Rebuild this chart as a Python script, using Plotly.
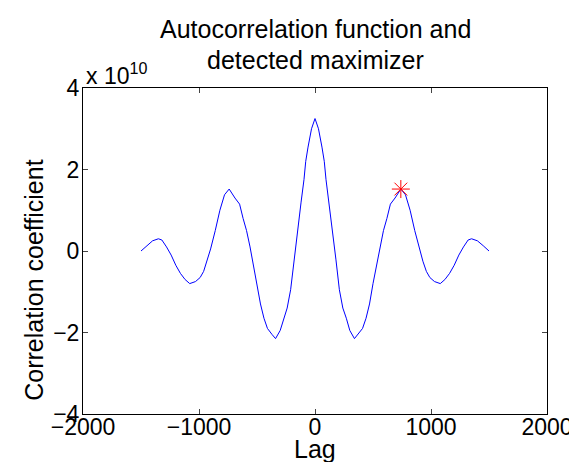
import plotly.graph_objects as go

# Lags and autocorrelation values (in units of 1e10)
lags = [-1500, -1450, -1400, -1350, -1320, -1280, -1240, -1200, -1160, -1120, -1080,
        -1030, -990, -960, -930, -900, -860, -820, -780, -740, -690, -650, -620,
        -590, -560, -530, -500, -470, -440, -410, -370, -340, -300, -270, -240,
        -210, -180, -150, -120, -95, -80, -60, -30,
        0,
        30, 60, 80, 95, 120, 150, 180, 210, 240, 270, 300, 340, 370, 410, 440,
        470, 500, 530, 560, 590, 620, 650, 690, 740, 780, 820, 860, 900, 930,
        960, 990, 1030, 1080, 1120, 1160, 1200, 1240, 1280, 1320, 1350, 1400,
        1450, 1500]
corr_e10 = [0.0, 0.13, 0.25, 0.3, 0.27, 0.1, -0.1, -0.35, -0.55, -0.7, -0.8,
            -0.75, -0.65, -0.5, -0.25, 0.05, 0.5, 1.0, 1.38, 1.52, 1.3, 1.15, 0.8,
            0.5, 0.1, -0.35, -0.8, -1.3, -1.65, -1.9, -2.05, -2.15, -1.95, -1.65, -1.4,
            -0.95, -0.2, 0.5, 1.2, 1.75, 2.2, 2.55, 3.0,
            3.25,
            3.0, 2.55, 2.2, 1.75, 1.2, 0.5, -0.2, -0.95, -1.4, -1.65, -1.95, -2.15,
            -2.05, -1.9, -1.65, -1.3, -0.8, -0.35, 0.1, 0.5, 0.8, 1.15, 1.3, 1.52,
            1.38, 1.0, 0.5, 0.05, -0.25, -0.5, -0.65, -0.75, -0.8, -0.7, -0.55,
            -0.35, -0.1, 0.1, 0.27, 0.3, 0.25, 0.13, 0.0]

max_lag = [740]
max_corr_e10 = [1.52]

x_ticks = [-2000, -1000, 0, 1000, 2000]
x_tick_text = ["\u22122000", "\u22121000", "0", "1000", "2000"]
y_ticks_e10 = [-4, -2, 0, 2, 4]
y_tick_text = ["\u22124", "\u22122", "0", "2", "4"]

title_lines = ["Autocorrelation function and", "detected maximizer"]
x_label = "Lag"
y_label = "Correlation coefficient"
exponent_label = "x 10<sup>10</sup>"

SCALE = 1e10
FONT = "Liberation Sans, Arial, Helvetica, sans-serif"
TICK_SIZE = 23
LABEL_SIZE = 25

# plot area geometry (pixels)
L, R, T, B = 75, 31, 80, 56
W, H = 577, 462
PH = H - T - B
PW = W - L - R


def py(y_px):
    return (H - B - y_px) / PH


def px(x_px):
    return (x_px - L) / PW


fig = go.Figure()
fig.add_trace(go.Scatter(
    x=lags, y=[v * SCALE for v in corr_e10], mode="lines",
    line=dict(color="#0000ff", width=1), showlegend=False, hoverinfo="skip"))
fig.add_trace(go.Scatter(
    x=max_lag, y=[v * SCALE for v in max_corr_e10], mode="markers",
    marker=dict(symbol="asterisk-open", size=15, color="red",
                line=dict(color="red", width=1)),
    showlegend=False, hoverinfo="skip"))

axis_common = dict(
    showline=True, linecolor="black", linewidth=1, mirror="ticks",
    ticks="inside", ticklen=5, tickcolor="#444444", tickwidth=1,
    showgrid=False, zeroline=False,
    tickfont=dict(family=FONT, size=TICK_SIZE, color="black"),
)

fig.update_xaxes(range=[-2000, 2000], tickvals=x_ticks, ticktext=x_tick_text,
                 ticklabelstandoff=-8, **axis_common)
fig.update_yaxes(range=[-4 * SCALE, 4 * SCALE],
                 tickvals=[v * SCALE for v in y_ticks_e10], ticktext=y_tick_text,
                 ticklabelstandoff=-2, **axis_common)

label_font = dict(family=FONT, size=LABEL_SIZE, color="black")
annotations = [
    dict(text=title_lines[0], xref="paper", yref="paper", x=0.5, y=py(21),
         xanchor="center", yanchor="middle", showarrow=False, font=label_font),
    dict(text=title_lines[1], xref="paper", yref="paper", x=0.5, y=py(52),
         xanchor="center", yanchor="middle", showarrow=False, font=label_font),
    dict(text=x_label, xref="paper", yref="paper", x=0.5, y=py(441),
         xanchor="center", yanchor="middle", showarrow=False, font=label_font),
    dict(text=y_label, xref="paper", yref="paper", x=px(25), y=py(272),
         xanchor="center", yanchor="middle", textangle=-90, showarrow=False,
         font=label_font),
    dict(text=exponent_label, xref="paper", yref="paper", x=px(76), y=py(80),
         xanchor="left", yanchor="bottom", showarrow=False, yshift=-3,
         font=dict(family=FONT, size=TICK_SIZE, color="black")),
]

fig.update_layout(
    width=W, height=H,
    margin=dict(l=L, r=R, t=T, b=B),
    paper_bgcolor="white", plot_bgcolor="white",
    font=dict(family=FONT, size=TICK_SIZE, color="black"),
    annotations=annotations,
)

fig.write_html("out.html")
